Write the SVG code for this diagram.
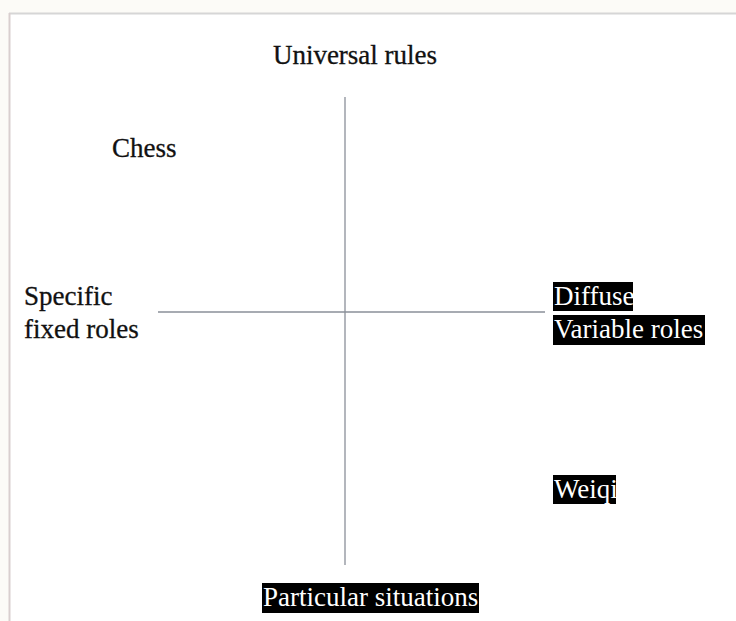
<svg xmlns="http://www.w3.org/2000/svg" width="736" height="621" viewBox="0 0 736 621">
<style>
text{font-family:'Liberation Serif',serif;font-size:27px}
.t{fill:#111;stroke:#111;stroke-width:0.3}
.w{fill:#fff}
.hl{fill:#000}
.ax{stroke:#8a8f99;stroke-width:1.3;fill:none}
</style>
<rect x="0" y="0" width="736" height="621" fill="#fcfbf7"/>
<rect x="9" y="13" width="727" height="608" fill="#ffffff"/>
<line x1="9" y1="13.5" x2="736" y2="13.5" stroke="#d6d6d6" stroke-width="2"/>
<line x1="9.5" y1="13" x2="9.5" y2="621" stroke="#d9cfcf" stroke-width="2"/>
<g id="connectors">
<line class="ax" x1="345" y1="97" x2="345" y2="565"/>
<line class="ax" x1="158" y1="312" x2="545" y2="312"/>
</g>
<g id="universal"><text class="t" x="355" y="64" text-anchor="middle">Universal rules</text></g>
<g id="chess"><text class="t" x="112" y="157">Chess</text></g>
<g id="specific"><text class="t" x="24" y="305">Specific</text><text class="t" x="24" y="338">fixed roles</text></g>
<g id="diffuse"><rect class="hl" x="553" y="282" width="80" height="29"/><text class="w" x="554" y="305">Diffuse</text></g>
<g id="variable"><rect class="hl" x="553" y="315" width="152" height="30"/><text class="w" x="554" y="338">Variable roles</text></g>
<g id="weiqi"><rect class="hl" x="553" y="475" width="63" height="29"/><text class="w" x="554" y="498">Weiqi</text></g>
<g id="particular"><rect class="hl" x="262" y="583" width="217" height="30"/><text class="w" x="263" y="606">Particular situations</text></g>
</svg>
